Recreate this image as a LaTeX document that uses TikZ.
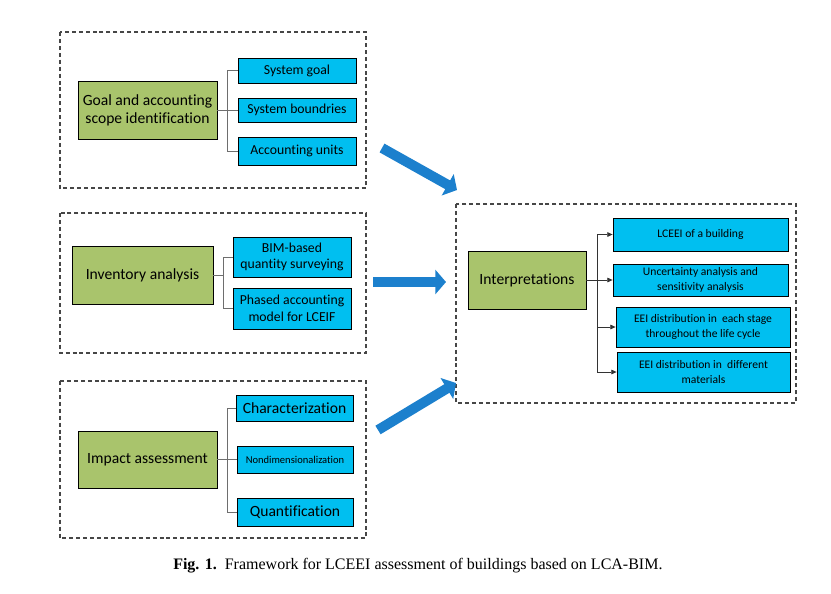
\documentclass[tikz,border=0pt]{standalone}
\usepackage{fontspec}
\setmainfont{Liberation Serif}
\newfontfamily\carlitofont[Ligatures={NoCommon,NoContextual}]{Carlito}
\usetikzlibrary{arrows.meta}
\definecolor{gfill}{RGB}{169,196,108}
\definecolor{bfill}{RGB}{0,191,240}
\definecolor{arrblue}{RGB}{28,128,205}
\definecolor{dashgray}{RGB}{70,70,70}
\definecolor{conngray}{RGB}{110,110,110}
\begin{document}
\begin{tikzpicture}[x=0.75pt,y=-0.75pt,
  frame/.style={draw=dashgray,dash pattern=on 3pt off 2.2pt,line width=0.8pt},
  gbox/.style={draw=black,fill=gfill,line width=0.6pt,inner sep=0pt,align=center,font=\carlitofont\fontsize{11.7}{13.5}\selectfont},
  bbox/.style={draw=black,fill=bfill,line width=0.6pt,inner sep=0pt,align=center,font=\carlitofont\fontsize{10.3}{12.5}\selectfont},
  lbox/.style={bbox,font=\carlitofont\fontsize{11.7}{13.5}\selectfont},
  sbox/.style={bbox,font=\carlitofont\fontsize{8.7}{10.7}\selectfont},
  conn/.style={draw=conngray,line width=0.6pt},
  aconn/.style={draw=black!80,line width=0.6pt,-{Triangle[length=4pt,width=3.5pt]}},
  bigarrow/.style={draw=arrblue,line width=7.5pt,-{Triangle[length=8pt,width=18pt]}}]
\useasboundingbox (0,0) rectangle (831,593);

% dashed frames
\draw[frame] (60,32) rectangle (366,188);
\draw[frame] (60,213) rectangle (366,353);
\draw[frame] (60,381) rectangle (366,538);
\draw[frame] (456,204) rectangle (796,403);

% group 1
\node[gbox,minimum width=139*0.75pt,minimum height=58*0.75pt] (g1) at (147.5,110) {Goal and accounting\\scope identification};
\node[bbox,minimum width=118*0.75pt,minimum height=25*0.75pt] (s1) at (297,70.5) {System goal};
\node[bbox,minimum width=118*0.75pt,minimum height=24*0.75pt] (s2) at (297,110) {System boundries};
\node[bbox,minimum width=118*0.75pt,minimum height=28*0.75pt] (s3) at (297,151) {Accounting units};
\coordinate (j1) at (227,110);
\draw[conn] (g1.east) -- (j1);
\draw[conn] (j1) |- (s1.west);
\draw[conn] (j1) |- (s3.west);
\draw[conn] (j1) -- (s2.west);

% group 2
\node[gbox,minimum width=141*0.75pt,minimum height=58*0.75pt] (g2) at (142.5,275) {Inventory analysis};
\node[bbox,minimum width=118*0.75pt,minimum height=40*0.75pt] (i1) at (292,257) {BIM-based\\quantity surveying};
\node[bbox,minimum width=118*0.75pt,minimum height=41*0.75pt] (i2) at (292,308.5) {Phased accounting\\model for LCEIF};
\coordinate (j2) at (223,275);
\draw[conn] (g2.east) -- (j2);
\draw[conn] (j2) |- (i1.west);
\draw[conn] (j2) |- (i2.west);

% group 3
\node[gbox,minimum width=139*0.75pt,minimum height=57*0.75pt] (g3) at (147.5,459.5) {Impact assessment};
\node[lbox,minimum width=117*0.75pt,minimum height=26*0.75pt] (c1) at (294.5,408) {Characterization};
\node[bbox,minimum width=116*0.75pt,minimum height=27*0.75pt,font=\carlitofont\fontsize{7.9}{9.5}\selectfont] (c2) at (295,459.5) {Nondimensionalization};
\node[lbox,minimum width=116*0.75pt,minimum height=28*0.75pt] (c3) at (295,512) {Quantification};
\coordinate (j3) at (227,459.5);
\draw[conn] (g3.east) -- (j3);
\draw[conn] (j3) |- (c1.west);
\draw[conn] (j3) |- (c3.west);
\draw[conn] (j3) -- (c2.west);

% group 4
\node[gbox,minimum width=118*0.75pt,minimum height=58*0.75pt] (g4) at (527,280) {Interpretations};
\node[sbox,minimum width=175*0.75pt,minimum height=33*0.75pt] (r1) at (700.5,234.5) {LCEEI of a building};
\node[sbox,minimum width=175*0.75pt,minimum height=32*0.75pt] (r2) at (700.5,280) {Uncertainty analysis and\\sensitivity analysis};
\node[sbox,minimum width=174*0.75pt,minimum height=40*0.75pt] (r3) at (703,327) {EEI distribution in\ \ each stage\\throughout the life cycle};
\node[sbox,minimum width=173*0.75pt,minimum height=40*0.75pt] (r4) at (703.5,372) {EEI distribution in\ \ different\\materials};
\coordinate (j4) at (597,280);
\draw[conn,draw=black!80] (g4.east) -- (j4);
\draw[aconn] (j4) |- (r1.west);
\draw[aconn] (j4) -- (r2.west);
\draw[aconn] (j4) |- (r3.west);
\draw[aconn] (j4) |- (r4.west);

% big arrows
\coordinate (a1s) at (382,148); \coordinate (a1e) at (457,190);
\coordinate (a2s) at (373,282); \coordinate (a2e) at (446,282);
\coordinate (a3s) at (378,430); \coordinate (a3e) at (456,383);
\draw[bigarrow] (a1s) -- (a1e);
\draw[bigarrow] (a2s) -- (a2e);
\draw[bigarrow] (a3s) -- (a3e);

% caption
\node[font=\fontsize{12}{14}\selectfont,anchor=west,inner sep=0pt] (cap) at (173,566) {\textbf{Fig. 1.}\enspace Framework for LCEEI assessment of buildings based on LCA-BIM.};
\end{tikzpicture}
\end{document}
